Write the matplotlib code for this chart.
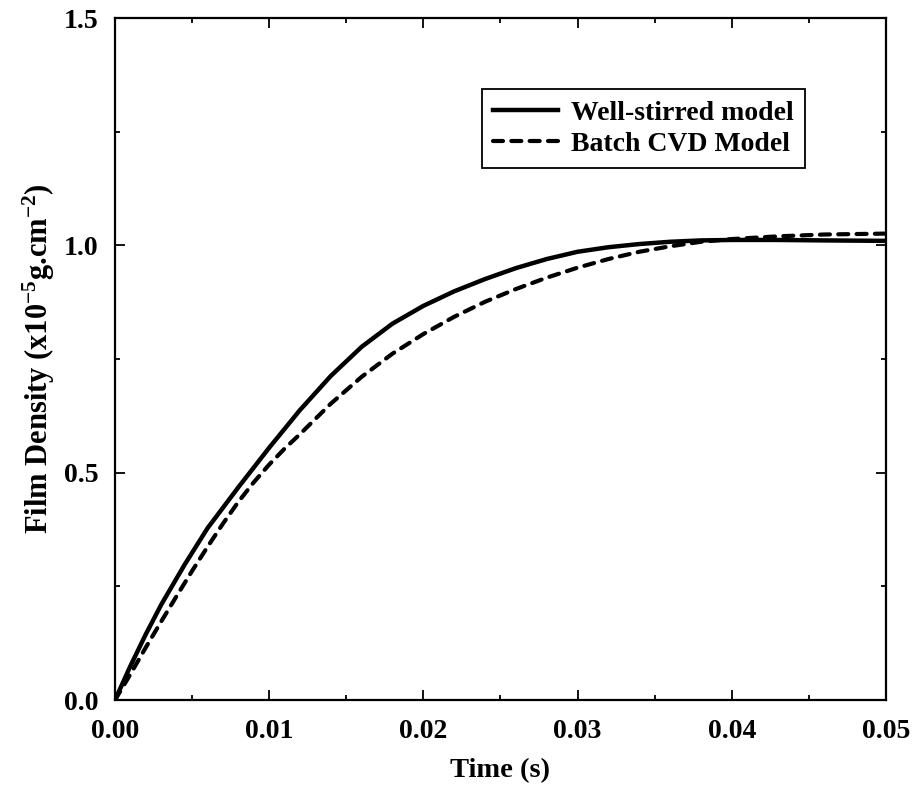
import numpy as np
import matplotlib
matplotlib.use("Agg")
import matplotlib.pyplot as plt
from matplotlib.ticker import MultipleLocator

# time axis (s) and film density (x10^-5 g/cm^2)
time_ws = [0, 0.001, 0.002, 0.003, 0.0045, 0.006, 0.008, 0.010, 0.012, 0.014,
           0.016, 0.018, 0.020, 0.022, 0.024, 0.026, 0.028, 0.030, 0.032,
           0.034, 0.036, 0.038, 0.040, 0.043, 0.046, 0.050]
well_stirred = [0, 0.075, 0.145, 0.210, 0.297, 0.378, 0.468, 0.555, 0.638, 0.713,
                0.777, 0.828, 0.867, 0.899, 0.926, 0.950, 0.970, 0.986, 0.996,
                1.003, 1.008, 1.011, 1.012, 1.012, 1.011, 1.010]

time_batch = [0, 0.001, 0.002, 0.003, 0.004, 0.005, 0.006, 0.007, 0.008, 0.009,
              0.010, 0.011, 0.012, 0.014, 0.016, 0.018, 0.020, 0.022, 0.024,
              0.026, 0.028, 0.030, 0.032, 0.034, 0.036, 0.038, 0.040, 0.043,
              0.046, 0.050]
batch_cvd = [0, 0.057, 0.116, 0.173, 0.229, 0.284, 0.337, 0.388, 0.436, 0.479,
             0.518, 0.553, 0.585, 0.652, 0.711, 0.762, 0.805, 0.843, 0.876,
             0.904, 0.929, 0.951, 0.970, 0.986, 0.998, 1.008, 1.014, 1.020,
             1.024, 1.026]

plt.rcParams['font.family'] = ['Liberation Serif', 'DejaVu Serif']
plt.rcParams['font.weight'] = 'bold'
plt.rcParams['mathtext.fontset'] = 'custom'
plt.rcParams['mathtext.rm'] = 'Liberation Serif:bold'
plt.rcParams['mathtext.bf'] = 'Liberation Serif:bold'
plt.rcParams['mathtext.default'] = 'rm'

fig = plt.figure(figsize=(9.18, 7.87), dpi=100)
ax = fig.add_axes([0.1253, 0.1105, 0.8397, 0.8665])

ax.plot(time_ws, well_stirred, color='black', lw=3.2, label='Well-stirred model')
ax.plot(time_batch, batch_cvd, color='black', lw=3.0, linestyle=(0, (2.4, 2.0)),
        dash_capstyle='round', label='Batch CVD Model')

ax.set_xlim(0, 0.05)
ax.set_ylim(0, 1.5)
ax.xaxis.set_major_locator(MultipleLocator(0.01))
ax.xaxis.set_minor_locator(MultipleLocator(0.005))
ax.yaxis.set_major_locator(MultipleLocator(0.5))
ax.yaxis.set_minor_locator(MultipleLocator(0.25))
ax.xaxis.set_major_formatter(plt.FormatStrFormatter('%.2f'))
ax.yaxis.set_major_formatter(plt.FormatStrFormatter('%.1f'))

ax.tick_params(which='both', direction='in', top=True, right=True, width=1.3)
ax.tick_params(which='major', length=7, labelsize=20)
ax.tick_params(which='minor', length=3.5)
ax.tick_params(axis='x', pad=14)
ax.tick_params(axis='y', pad=12)
for s in ax.spines.values():
    s.set_linewidth(1.6)

ax.set_xlabel('Time (s)', fontsize=20.5, fontweight='bold', labelpad=10)
ax.set_ylabel(r'Film Density (x10$^{-5}$g.cm$^{-2}$)', fontsize=22,
              fontweight='bold', labelpad=5)

leg = ax.legend(loc='upper left', bbox_to_anchor=(0.476, 0.896), borderaxespad=0,
                fontsize=20, handlelength=2.35, fancybox=False, framealpha=1,
                edgecolor='black', borderpad=0.4, labelspacing=0.22,
                handletextpad=0.47)
leg.get_frame().set_linewidth(1.3)

fig.savefig('out.png', dpi=100)
